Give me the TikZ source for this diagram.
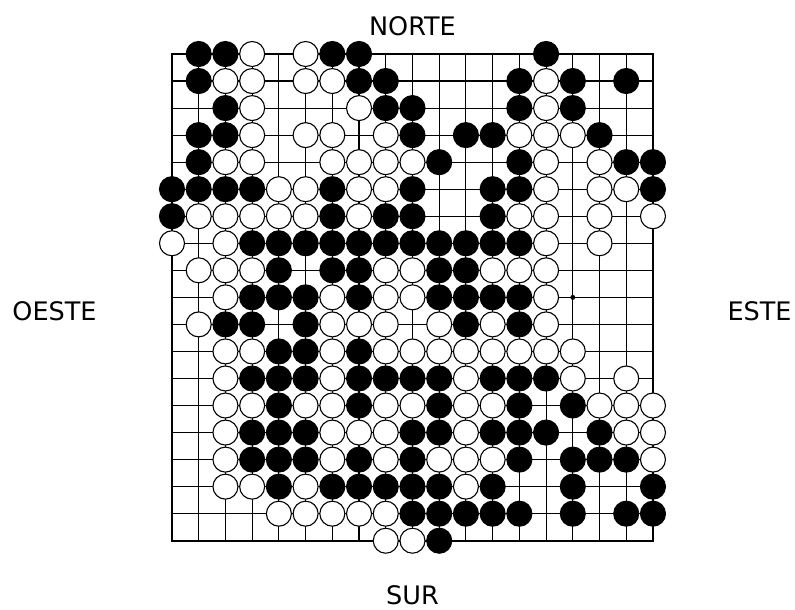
\documentclass[tikz,border=0pt]{standalone}
\usepackage{fontspec}
\setmainfont{DejaVu Sans}
\usetikzlibrary{positioning}
\tikzset{
  bstone/.style={
    shape = circle,
    minimum size = 25pt,
    inner sep = 0pt,
    line width = 1.1pt,
    draw,
    fill
  },
  wstone/.style={
    shape = circle,
    minimum size = 25pt,
    inner sep = 0pt,
    line width = 1.1pt,
    draw,
    fill = white
  },
}
\tikzset{
  rim/.style={
    line width = 2.2pt
  },
  lines/.style={
    line width = 1.1pt
  },
  hoshi/.style={
    shape = circle,
    minimum size = 5pt,
    inner sep = 0pt,
    fill
  },
  compass/.style={
    anchor = base,
    inner sep = 0pt,
    font = \fontsize{25.5}{30}\selectfont
  }
}
\begin{document}
\begin{tikzpicture}[x=26.72pt,y=-27.04pt]
\useasboundingbox (-6.4371,-1.9970) rectangle (23.3159,20.5621);
% board
\foreach \i in {1,...,17}{
  \draw[lines] (\i,0) -- (\i,18);
  \draw[lines] (0,\i) -- (18,\i);
}
\draw[rim] (0,0) rectangle (18,18);
\foreach \x in {3,9,15}{
  \foreach \y in {3,9,15}{
    \node[hoshi] (h\x-\y) at (\x,\y) {};
  }}
% black stones, row/columns
\foreach \r/\cs in {0/{1,2,6,7,14}, 1/{1,7,8,13,15,17}, 2/{2,8,9,13,15},
    3/{1,2,9,11,12,16}, 4/{1,10,13,17,18}, 5/{0,1,2,3,6,9,12,13,18},
    6/{0,6,8,9,12}, 7/{3,4,5,6,7,8,9,10,11,12,13}, 8/{4,6,7,10,11},
    9/{3,4,5,7,10,11,12,13}, 10/{2,3,5,11,13}, 11/{4,5,7},
    12/{3,4,5,7,8,9,10,12,13,14}, 13/{4,7,10,13,15},
    14/{3,4,5,9,10,12,13,14,16}, 15/{3,4,5,7,9,13,15,16,17},
    16/{4,6,7,8,9,10,12,15,18}, 17/{9,10,11,12,13,15,17,18}, 18/{10}}{
  \foreach \c in \cs
    \node[bstone] (b\c-\r) at (\c,\r) {};
}
% white stones, row/columns
\foreach \r/\cs in {0/{3,5}, 1/{2,3,5,6,14}, 2/{3,7,14},
    3/{3,5,6,8,13,14,15}, 4/{2,3,6,7,8,9,14,16}, 5/{4,5,7,8,14,16,17},
    6/{1,2,3,4,5,7,13,14,16,18}, 7/{0,2,14,16}, 8/{1,2,3,8,9,12,13,14},
    9/{2,6,8,9,14}, 10/{1,6,7,8,10,12,14},
    11/{2,3,6,8,9,10,11,12,13,14,15}, 12/{2,6,11,15,17},
    13/{2,3,5,6,8,9,11,12,16,17,18}, 14/{2,6,7,8,11,17,18},
    15/{2,6,8,10,11,12,18}, 16/{2,3,5,11}, 17/{4,5,6,7,8}, 18/{8,9}}{
  \foreach \c in \cs
    \node[wstone] (w\c-\r) at (\c,\r) {};
}
% directions
\node[compass] (norte) at (9,-0.666) {NORTE};
\node[compass] (sur) at (9,20.36) {SUR};
\node[compass] (oeste) at (-4.397,9.863) {OESTE};
\node[compass] (este) at (21.99,9.863) {ESTE};
\end{tikzpicture}
\end{document}
